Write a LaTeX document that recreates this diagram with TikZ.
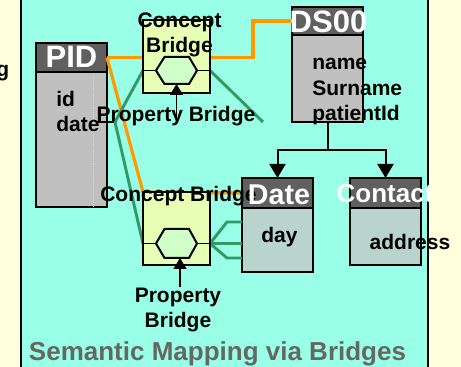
\documentclass[tikz,border=0pt]{standalone}
\usepackage{fontspec}
\setmainfont{Liberation Sans}
\usetikzlibrary{arrows.meta}
\definecolor{paleyellow}{RGB}{255,255,221}
\definecolor{mint}{RGB}{153,255,230}
\definecolor{hdrgray}{RGB}{96,96,96}
\definecolor{bodygray}{RGB}{192,192,192}
\definecolor{bodyteal}{RGB}{184,212,204}
\definecolor{bridgefill}{RGB}{230,255,180}
\definecolor{hexfill}{RGB}{208,255,200}
\definecolor{mapgreen}{RGB}{51,153,102}
\definecolor{maporange}{RGB}{255,153,0}
\definecolor{titlegray}{RGB}{102,102,102}

\begin{document}
\begin{tikzpicture}[x=0.75pt,y=0.75pt,yscale=-1,
    hdr/.style={draw, line width=1.5pt, fill=hdrgray, outer sep=0pt, inner sep=0pt, minimum width=53.25pt},
    body/.style={draw, line width=1.5pt, fill=bodygray, outer sep=0pt, inner sep=0pt, minimum width=53.25pt},
    bridge/.style={draw, line width=1.5pt, fill=bridgefill, outer sep=0pt, inner sep=0pt, minimum width=50.25pt, minimum height=54.75pt, anchor=north west},
    hexa/.style={draw, line width=1.5pt, fill=hexfill, line join=miter},
    hdrtxt/.style={text=white, inner sep=0pt, anchor=base},
    lbl/.style={font=\bfseries\fontsize{15.75}{18.75}\selectfont, inner sep=0pt},
    orangeln/.style={draw=maporange, line width=2.4pt},
    greenln/.style={draw=mapgreen, line width=2.2pt},
    wire/.style={line width=1.2pt},
    uparrow/.style={line width=1.2pt, -{Triangle[width=9.75pt,length=8.25pt]}},
    tree/.style={line width=1.5pt, -{Triangle[width=12pt,length=10.5pt]}}]
\useasboundingbox (0,0) rectangle (461,367);

%Shape: Background
\fill[paleyellow] (0,0) rectangle (461,367);
\fill[mint] (21,0) rectangle (428,367);
\draw[line width=1.5pt] (21,0) -- (21,367) (428,0) -- (428,367);

%Shape: Tables
\node (pidH) [hdr, minimum height=21.75pt, anchor=north west] at (36,43) {};
\node (pidB) [body, minimum height=101.25pt, anchor=north] at (pidH.south) {};
\draw[color={rgb,255:red,215;green,215;blue,215}, densely dotted] (93,73) -- (93,206);
\node (dsH) [hdr, minimum height=21pt, anchor=north west] at (292,7) {};
\node (dsB) [body, minimum height=65.25pt, anchor=north] at (dsH.south) {};
\node (dateH) [hdr, minimum height=22.5pt, anchor=north west] at (242,178) {};
\node (dateB) [body, fill=bodyteal, minimum height=48pt, anchor=north] at (dateH.south) {};
\node (contH) [hdr, minimum height=22.5pt, anchor=north west] at (350,178) {};
\node (contB) [body, fill=bodyteal, minimum height=42.75pt, anchor=north] at (contH.south) {};

%Bridge ports
\coordinate (cbUin) at (143,70.5);
\coordinate (cbUout) at (210,70.5);
\coordinate (cbLin) at (143,243.5);
\coordinate (cbLout) at (210,243.5);
\coordinate (dstub) at (97,122);
\coordinate (gjoin) at (115,122);
\coordinate (gfree) at (263,122);
\coordinate (obend) at (253,57.5);

%Straight Lines: orange mappings
\draw[orangeln] (pidH.east) -- (obend) |- (dsH.west);
\draw[orangeln] (pidH.east) -- (143,192) -- (dateH.west);
%Straight Lines: green mappings
\draw[wire] (dstub) -- (gjoin);
\draw[greenln] (gjoin) -- (cbUin);
\draw[greenln] (gjoin) -- (cbLin);
\draw[greenln] (cbUout) -- (gfree);
\draw[greenln] (cbLout) -- (227,222) -- (227,222 -| dateB.west);
\draw[greenln] (cbLout) -- (cbLout -| dateB.west);
\draw[greenln] (cbLout) -- (227,258) -- (227,258 -| dateB.west);

%Shape: Bridges
\node (cbU) [bridge] at (143,20) {};
\node (cbL) [bridge] at (143,192) {};
\coordinate (hexUw) at (156,70.5);
\coordinate (hexUe) at (197,70.5);
\coordinate (hexUs) at (176.5,84);
\coordinate (hexLw) at (156,243.5);
\coordinate (hexLe) at (197,243.5);
\coordinate (hexLs) at (180,258);
\draw[hexa] (hexUw) -- (164.5,57) -- (189,57) -- (hexUe) -- (189,84) -- (164.5,84) -- cycle;
\draw[hexa] (hexLw) -- (164.5,229) -- (189,229) -- (hexLe) -- (189,258) -- (164.5,258) -- cycle;
\draw[wire] (cbUin) -- (hexUw) (hexUe) -- (cbUout);
\draw[wire] (cbLin) -- (hexLw) (hexLe) -- (cbLout);

%Straight Lines: property arrows
\coordinate (pbUtail) at (176.5,122);
\coordinate (pbLtail) at (180,287);
\draw[uparrow] (pbUtail) -- (hexUs);
\draw[uparrow] (pbLtail) -- (hexLs);

%Straight Lines: tree
\coordinate (tsplit) at (327.5,150);
\draw[line width=1.5pt] (dsB.south) -- (tsplit);
\draw[tree] (tsplit) -| (dateH.north);
\draw[tree] (tsplit) -| (contH.north);

% Text Node
\node (cutg) [lbl, anchor=base east] at (9.5,77) {g};
\node (cbUtxt) [lbl, align=center, anchor=north] at (179.5,13) {Concept\\Bridge};
\node (pbUtxt) [lbl, anchor=base] at (176,122) {Property Bridge};
\node (cbLtxt) [lbl, anchor=base] at (178.5,202) {Concept Bridge};
\node (pbLtxt) [lbl, align=center, anchor=north] at (178,288) {Property\\Bridge};
% Text Node: headers
\node (pidT) [hdrtxt, font=\bfseries\fontsize{23.25}{26}\selectfont] at (71.5,68) {PID};
\node (dsT) [hdrtxt, font=\bfseries\fontsize{23.25}{26}\selectfont] at (328.5,33) {DS00};
\node (dateT) [hdrtxt, font=\bfseries\fontsize{21.5}{24}\selectfont] at (279,205) {Date};
\node (contT) [hdrtxt, font=\bfseries\fontsize{19.5}{22}\selectfont] at (385,203) {Contact};
% Text Node: fields
\node (pidId) [lbl, anchor=base west] at (56,107) {id};
\node (pidDate) [lbl, anchor=base west] at (56,132) {date};
\node (dsName) [lbl, anchor=base west] at (312,70) {name};
\node (dsSur) [lbl, anchor=base west] at (312,96) {Surname};
\node (dsPat) [lbl, anchor=base west] at (312,121) {patientId};
\node (dateDay) [lbl, anchor=base] at (279.5,243) {day};
\node (contAddr) [lbl, anchor=base] at (410,250) {address};
% Text Node: title
\node (title) [inner sep=0pt, anchor=base, text=titlegray, font=\bfseries\fontsize{19.5}{22}\selectfont] at (217.5,360) {Semantic Mapping via Bridges};
\end{tikzpicture}
\end{document}
